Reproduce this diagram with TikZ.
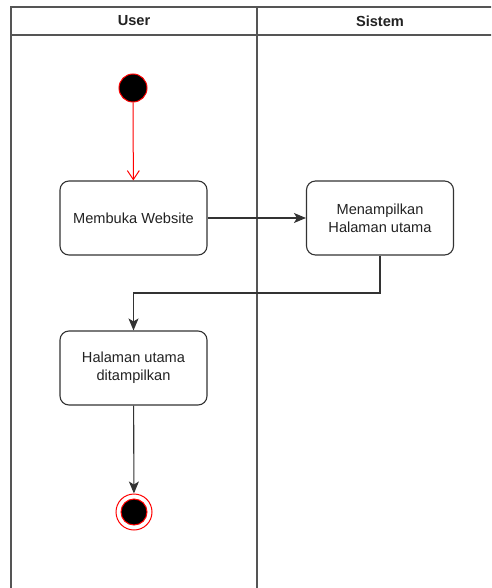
\documentclass[tikz,border=0pt]{standalone}
\usepackage{fontspec}
\setmainfont{Liberation Sans}
\usetikzlibrary{arrows.meta}
\definecolor{txt}{HTML}{222222}
\definecolor{ln}{HTML}{333333}
\definecolor{pool}{HTML}{555555}
\begin{document}
\begin{tikzpicture}[x=1pt,y=-1pt,
  act/.style={draw=ln,line width=1.1pt,rounded corners=9pt,minimum width=147pt,minimum height=74pt,align=center,font=\fontsize{14.6}{18}\selectfont,text=txt,inner sep=0pt},
  flow/.style={draw=ln,line width=1.1pt,-{Stealth[length=12pt,width=10pt,inset=3pt]}},
  hdr/.style={font=\bfseries\fontsize{14.6}{17}\selectfont,text=txt}]
\useasboundingbox (0,0) rectangle (491,588);
\clip (0,0) rectangle (491,588);
% pool
\draw[pool,line width=1.3pt] (11,7) rectangle (500,600);
\draw[pool,line width=1.3pt] (11,35) -- (500,35);
\draw[pool,line width=1.3pt] (257,7) -- (257,600);
\node[hdr] (hu) at (134,21) {User};
\node[hdr] (hs) at (380,21) {Sistem};
% nodes
\node[circle,fill=black,draw=red,line width=1pt,minimum size=28pt,inner sep=0pt] (start) at (133,88) {};
\node[act] (a1) at (133.5,218) {Membuka Website};
\node[act] (a2) at (380,218) {Menampilkan\\Halaman utama};
\node[act] (a3) at (133.5,368) {Halaman utama\\ditampilkan};
\node[circle,draw=red,line width=1pt,minimum size=36pt,inner sep=0pt] (end) at (134,512) {};
\node[circle,fill=black,draw=red,line width=1pt,minimum size=26pt,inner sep=0pt] (endin) at (end) {};
% edges
\draw[red,line width=1pt,-{Straight Barb[length=9pt,width=12pt]}] (start) -- (a1);
\draw[flow] (a1) -- (a2);
\draw[flow] (a2.south) |- (133.5,293) -- (a3.north);
\draw[flow] (a3) -- (end);
\end{tikzpicture}
\end{document}
